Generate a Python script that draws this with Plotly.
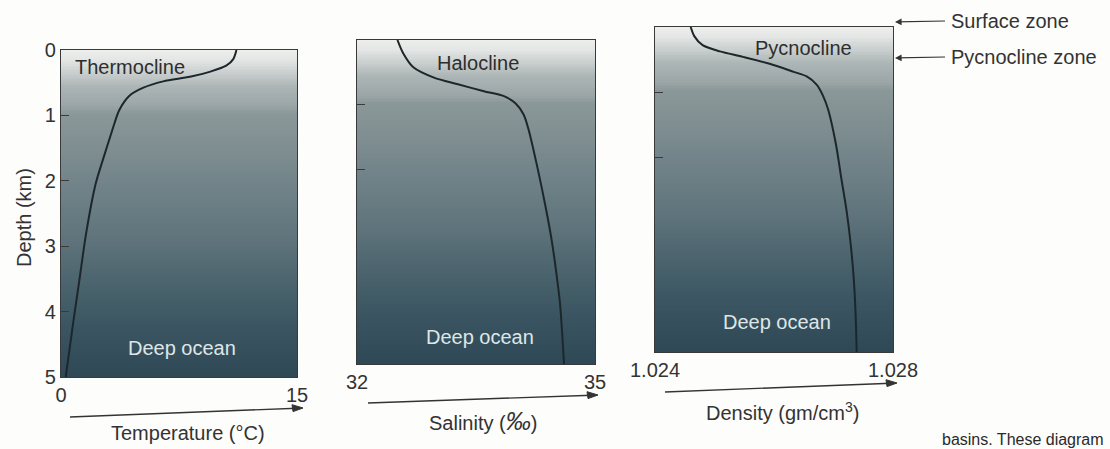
import numpy as np
import plotly.graph_objects as go

W, H = 1110, 449

# ---------------- data ----------------
temp_depth = [0, 0.14, 0.24, 0.33, 0.41, 0.48, 0.58, 0.70, 0.92, 1.12, 1.27, 1.65, 2.05, 2.8, 3.55, 4.3, 5.0]
temp_values = [11.15, 10.95, 10.5, 9.5, 8.2, 6.5, 5.2, 4.35, 3.7, 3.4, 3.2, 2.7, 2.2, 1.6, 1.15, 0.7, 0.3]

sal_depth = [0, 0.2, 0.42, 0.58, 0.68, 0.79, 0.87, 0.98, 1.15, 1.37, 2.0, 2.53, 3.06, 3.57, 4.08, 4.6, 5.0]
sal_values = [32.51, 32.58, 32.71, 32.97, 33.26, 33.6, 33.86, 34.0, 34.1, 34.16, 34.28, 34.37, 34.45, 34.51, 34.56, 34.59, 34.61]

dens_depth = [0, 0.14, 0.28, 0.375, 0.46, 0.57, 0.69, 0.76, 0.89, 1.07, 1.27, 1.8, 2.32, 2.83, 3.35, 3.87, 4.38, 5.0]
dens_values = [1.02460, 1.02466, 1.02480, 1.02509, 1.02548, 1.02594, 1.02633, 1.02655, 1.02672, 1.02683,
               1.02691, 1.02704, 1.02713, 1.02722, 1.02729, 1.02734, 1.02737, 1.02739]

depth_ticks = [0, 1, 2, 3, 4, 5]
minor_depth_ticks = [1, 2]
temp_range = [0, 15]
sal_range = [32, 35]
dens_range = [1.024, 1.028]
temp_ticktext = ["0", "15"]
sal_ticktext = ["32", "35"]
dens_ticktext = ["1.024", "1.028"]

panel_labels = ["Thermocline", "Halocline", "Pycnocline"]
axis_titles = ["Temperature (°C)",
               "Salinity (<span style='font-size:25px;font-style:italic'>‰</span>)",
               "Density (gm/cm<sup>3</sup>)"]
zone_labels = ["Surface zone", "Pycnocline zone"]
caption_fragment = "basins. These diagram"

# ---------------- style ----------------
FONT = "Liberation Sans, Arial, sans-serif"
TXT = "#333333"
LINE = "#1d272b"
FS = 20
shade_stops = [(0, "#eeefed"), (0.15, "#e3e6e4"), (0.35, "#c9cfce"), (0.55, "#adb6b6"),
               (0.85, "#9ba6a7"), (0.97, "#8b989a"), (1.5, "#7f8e91"), (2.2, "#6e8187"),
               (3.0, "#5c7179"), (3.6, "#4a636d"), (4.2, "#3b5662"), (5.0, "#2e4955")]
colorscale = [[d / 5.0, c] for d, c in shade_stops]

# panel boxes in pixels: (left, right, top, bottom)
boxes = [(61, 297, 50, 377), (357, 595, 40, 364), (655, 893, 27, 352)]


def px_x(x):
    return x / W


def px_y(y):
    return 1 - y / H


fig = go.Figure()
panels = [
    (temp_values, temp_depth, temp_range, temp_ticktext),
    (sal_values, sal_depth, sal_range, sal_ticktext),
    (dens_values, dens_depth, dens_range, dens_ticktext),
]

bg_depth = np.linspace(0, 5, 201)
for i, (xv, dv, xr, tt) in enumerate(panels):
    n = "" if i == 0 else str(i + 1)
    xa, ya = "x" + n, "y" + n
    fig.add_trace(go.Heatmap(
        x=[xr[0], xr[1]], y=bg_depth, z=[[d, d] for d in bg_depth],
        colorscale=colorscale, zmin=0, zmax=5, showscale=False, hoverinfo="skip",
        xaxis=xa, yaxis=ya,
    ))
    fig.add_trace(go.Scatter(
        x=xv, y=dv, mode="lines", line=dict(color=LINE, width=2, shape="spline", smoothing=0.8),
        xaxis=xa, yaxis=ya, showlegend=False, hoverinfo="skip",
    ))
    l, r, t, b = boxes[i]
    fig.layout["xaxis" + n] = dict(
        domain=[px_x(l), px_x(r)], range=xr, anchor=ya, tickvals=xr, ticktext=tt,
        ticks="", showline=True, mirror=True, linecolor="#3a3a3a", linewidth=1.2,
        showgrid=False, zeroline=False, tickfont=dict(family=FONT, size=FS, color=TXT),
        fixedrange=True, automargin=False,
    )
    fig.layout["yaxis" + n] = dict(
        domain=[px_y(b), px_y(t)], range=[5, 0], anchor=xa,
        tickvals=depth_ticks if i == 0 else minor_depth_ticks,
        showticklabels=(i == 0), ticks="inside", ticklen=8, tickcolor="#3a3a3a", tickwidth=1.3,
        showline=True, mirror=True, linecolor="#3a3a3a", linewidth=1.2,
        showgrid=False, zeroline=False, tickfont=dict(family=FONT, size=FS, color=TXT),
        fixedrange=True, automargin=False,
    )

annotations = []
shapes = []


def label(x, y, text, size=FS, color=TXT, xanchor="center", yanchor="middle", **kw):
    annotations.append(dict(x=px_x(x), y=px_y(y), xref="paper", yref="paper", text=text,
                            showarrow=False, xanchor=xanchor, yanchor=yanchor,
                            font=dict(family=FONT, size=size, color=color), **kw))


# labels inside the panels
label_pos = [(130, 67), (478, 63), (803, 48)]
deep_pos = [(182, 348), (480, 337), (777, 322)]
for (x, y), s in zip(label_pos, panel_labels):
    label(x, y, s, size=20, color="#2e2e2e")
for x, y in deep_pos:
    label(x, y, "Deep ocean", size=20, color="#dfe6e7")

# arrows under each panel (line + arrowhead drawn as shapes)
arrows = [((70, 417), (303, 408)), ((368, 403), (598, 395)), ((665, 392), (897, 383))]
for (x0, y0), (x1, y1) in arrows:
    shapes.append(dict(type="line", xref="paper", yref="paper", x0=px_x(x0), y0=px_y(y0),
                       x1=px_x(x1 - 6), y1=px_y(y1 + 0.2), line=dict(color="#333333", width=1.4)))
    path = "M {} {} L {} {} L {} {} Z".format(
        px_x(x1), px_y(y1), px_x(x1 - 11), px_y(y1 - 3.3), px_x(x1 - 10), px_y(y1 + 3.6))
    shapes.append(dict(type="path", xref="paper", yref="paper", path=path,
                       fillcolor="#333333", line=dict(color="#333333", width=1)))

# axis titles
title_pos = [(188, 433), (483, 421), (782, 411)]
for (x, y), s in zip(title_pos, axis_titles):
    label(x, y, s)

label(24, 218, "Depth (km)", textangle=-90)

# zone annotations on the right: text with an arrow pointing at the panel
zone_y = [21, 57]
for s, y in zip(zone_labels, zone_y):
    annotations.append(dict(x=px_x(895), y=px_y(y + 1), xref="paper", yref="paper",
                            ax=50, ay=-1, axref="pixel", ayref="pixel", text=s,
                            xanchor="left", yanchor="middle", showarrow=True, arrowhead=2,
                            arrowsize=1.1, arrowwidth=1.2, arrowcolor="#333333", standoff=0,
                            borderpad=5, font=dict(family=FONT, size=20, color=TXT)))

# fragment of the page caption at the bottom edge of the scan
label(1106, 439, caption_fragment, size=16, color="#2a2a2a", xanchor="right", yanchor="middle")

fig.update_layout(
    width=W, height=H, margin=dict(l=0, r=0, t=0, b=0, autoexpand=False),
    paper_bgcolor="#fdfdfb", plot_bgcolor="#fdfdfb", showlegend=False,
    annotations=annotations, shapes=shapes,
)

fig.write_html("out.html", config={"displayModeBar": False})
